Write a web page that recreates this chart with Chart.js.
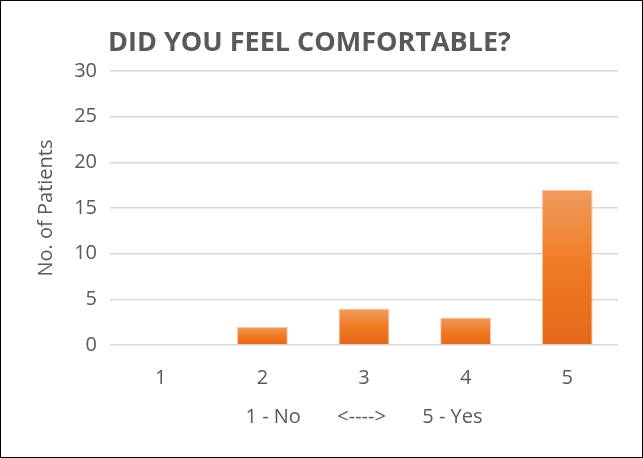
<!DOCTYPE html>
<html>
<head>
<meta charset="utf-8">
<script src="https://cdn.jsdelivr.net/npm/chart.js@4.4.0/dist/chart.umd.min.js"></script>
<style>
  html, body { margin: 0; padding: 0; background: #fff; }
  #wrap { width: 643px; height: 458px; box-sizing: border-box; border: 1px solid #000; position: relative; }
  #wrap canvas { display: block; }
</style>
</head>
<body>
<div id="wrap"><canvas id="c" width="641" height="456"></canvas></div>
<script>
const categories = ['1', '2', '3', '4', '5'];
const patients = [0, 2, 4, 3, 17];
const yTicks = [0, 5, 10, 15, 20, 25, 30];
const titleText = 'DID YOU FEEL COMFORTABLE?';
const xTitle = '1 - No       <---->       5 - Yes';
const yTitle = 'No. of Patients';

const FONT = "'Open Sans', 'Liberation Sans', sans-serif";
const GREY = '#595959';

function barGradient(ctx) {
  const chart = ctx.chart;
  const y = chart.scales && chart.scales.y;
  if (!y || ctx.parsed == null) return '#ED7D31';
  const top = y.getPixelForValue(ctx.parsed.y);
  const base = y.getPixelForValue(0);
  if (!isFinite(top) || !isFinite(base) || Math.abs(base - top) < 1) return '#ED7D31';
  const g = chart.ctx.createLinearGradient(0, top, 0, base);
  g.addColorStop(0, '#EF9C5E');
  g.addColorStop(0.5, '#F07A22');
  g.addColorStop(1, '#E4671A');
  return g;
}

new Chart(document.getElementById('c'), {
  type: 'bar',
  data: {
    labels: categories,
    datasets: [{
      data: patients,
      backgroundColor: barGradient,
      borderColor: 'rgba(246,178,130,0.7)',
      borderWidth: 1,
      categoryPercentage: 1.0,
      barPercentage: 0.5
    }]
  },
  options: {
    responsive: false,
    animation: false,
    devicePixelRatio: 1,
    layout: { padding: { left: 0, right: 24, top: 0, bottom: 0 } },
    plugins: {
      legend: { display: false },
      tooltip: { enabled: false },
      title: {
        display: true,
        text: titleText,
        color: GREY,
        font: { family: FONT, size: 27, weight: 'bold' },
        padding: { top: 26, bottom: 11.6 }
      }
    },
    scales: {
      x: {
        grid: { display: false, drawTicks: false },
        border: { display: false },
        ticks: { color: GREY, font: { family: FONT, size: 20 }, padding: 21 },
        title: { display: true, text: xTitle, color: GREY, font: { family: FONT, size: 20 }, padding: { top: 0, bottom: 28 } },
        afterFit: s => { s.height = 112; }
      },
      y: {
        min: 0, max: 30,
        afterBuildTicks: s => { s.ticks = yTicks.map(v => ({ value: v })); },
        grid: { color: '#D9D9D9', lineWidth: 1.5, drawTicks: false },
        border: { display: false },
        ticks: { color: GREY, font: { family: FONT, size: 20 }, padding: 13 },
        title: { display: true, text: yTitle, color: GREY, font: { family: FONT, size: 20 }, padding: { top: 33, bottom: 0 } },
        afterFit: s => { s.width = 109; }
      }
    }
  }
});
</script>
</body>
</html>
